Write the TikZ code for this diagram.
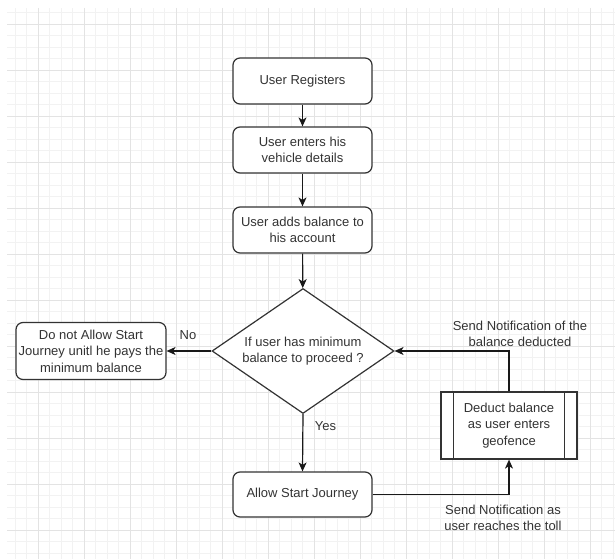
\documentclass[tikz,border=0pt]{standalone}
\usepackage{fontspec}
\setmainfont{Liberation Sans}
\usetikzlibrary{shapes.geometric,arrows.meta,calc}

\begin{document}
\begin{tikzpicture}[x=1pt, y=-1pt,
    minor grid/.style={line width=0.6pt, black!5},
    major grid/.style={line width=0.8pt, black!11},
    txt/.style={text=black!80, align=center, inner sep=0pt,
      font=\fontsize{13}{16.5}\selectfont},
    box/.style={txt, draw=black!80, line width=1.2pt, fill=white,
      rounded corners=7pt, minimum width=139pt, minimum height=46pt},
    decision/.style={txt, diamond, shape aspect=1.456, draw=black!80,
      line width=1.2pt, fill=white, minimum width=182pt, minimum height=125pt},
    process/.style={txt, draw=black!80, line width=1.2pt, fill=white,
      minimum width=136pt, minimum height=67pt},
    flow/.style={line width=1.2pt, black!90,
      -{Stealth[length=9pt, width=8pt, inset=2.5pt]}}]
    \useasboundingbox (0,0) rectangle (615,559);

    % background grid
    \begin{scope}
      \clip (7,8) rectangle (615,559);
      \foreach \gx in {15,26.5,...,615} \draw[minor grid] (\gx,8) -- (\gx,559);
      \foreach \gy in {12.5,24,...,559} \draw[minor grid] (7,\gy) -- (615,\gy);
      \foreach \gx in {38,84,...,615} \draw[major grid] (\gx,8) -- (\gx,559);
      \foreach \gy in {24,70,...,559} \draw[major grid] (7,\gy) -- (615,\gy);
    \end{scope}

    \node[box] (reg) at (302.5,81) {User Registers};
    \node[box] (veh) at (302.5,150) {User enters his\\vehicle details};
    \node[box] (bal) at (302.5,230) {User adds balance to\\his account};
    \node[decision] (chk) at (303,351) {If user has minimum\\balance to proceed ?};
    \node[box, minimum width=150pt, minimum height=57pt] (deny) at (91,351)
        {Do not Allow Start\\Journey unitl he pays the\\minimum balance};
    \node[box, minimum height=45pt] (start) at (302.5,494.5) {Allow Start Journey};
    \node[process] (deduct) at (509,425.5) {Deduct balance\\as user enters\\geofence};
    \draw[line width=1.2pt, black!80]
        ($ (deduct.north west)+(13,0) $) -- ($ (deduct.south west)+(13,0) $)
        ($ (deduct.north east)+(-13,0) $) -- ($ (deduct.south east)+(-13,0) $);

    \draw[flow] (reg) -- (veh);
    \draw[flow] (veh) -- (bal);
    \draw[flow] (bal) -- (chk);
    \draw[flow] (chk.west) -- (deny.east);
    \draw[flow] (chk.south) -- (start.north);
    \draw[flow] (start.east) -| (deduct.south);
    \draw[flow] (deduct.north) |- (chk.east);

    \node[txt] (nolbl) at (188,335) {No};
    \node[txt] (yeslbl) at (325.5,426) {Yes};
    \node[txt] (toll) at (503,518) {Send Notification as\\user reaches the toll};
    \node[txt] (notif) at (520,334) {Send Notification of the\\balance deducted};

\end{tikzpicture}
\end{document}
